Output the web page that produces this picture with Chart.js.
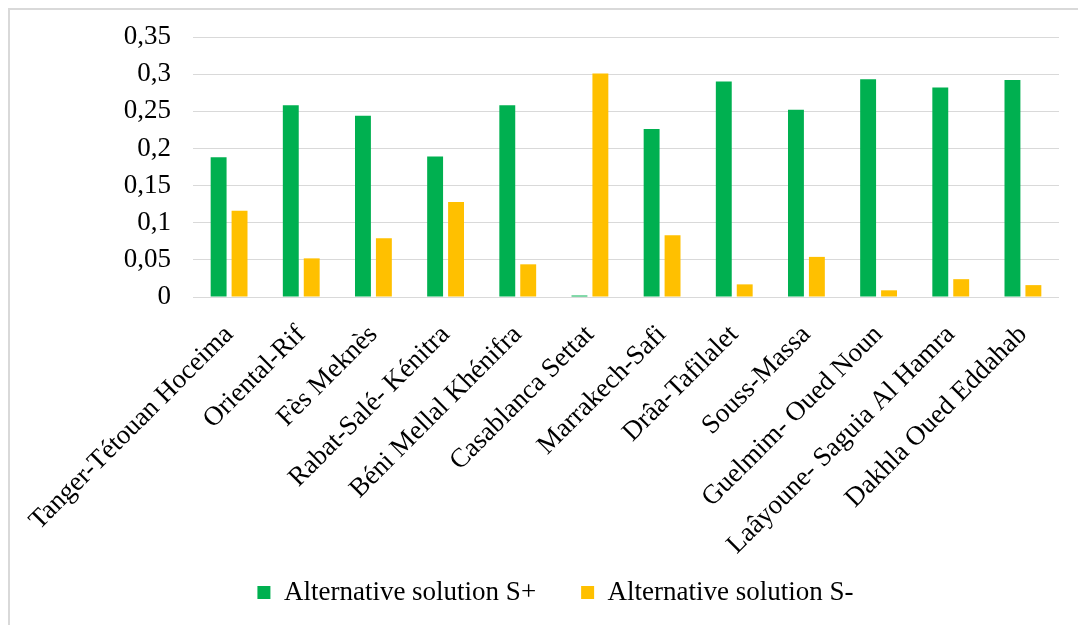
<!DOCTYPE html>
<html>
<head>
<meta charset="utf-8">
<script src="https://cdn.jsdelivr.net/npm/chart.js@4.4.1/dist/chart.umd.min.js"></script>
<style>
  html, body { margin: 0; padding: 0; background: #ffffff; overflow: hidden; }
  #wrap { position: relative; width: 1078px; height: 625px; }
  #frame { position: absolute; left: 8px; top: 8px; width: 1090px; height: 640px;
           border-left: 2px solid #d9d9d9; border-top: 2px solid #d9d9d9; box-sizing: border-box; }
  #c { position: absolute; left: 0; top: 0; }
</style>
</head>
<body>
<div id="wrap">
  <div id="frame"></div>
  <canvas id="c" width="1078" height="625"></canvas>
</div>
<script>
// Moroccan regions
const regions = [
  'Tanger-Tétouan Hoceima', 'Oriental-Rif', 'Fès Meknès', 'Rabat-Salé- Kénitra',
  'Béni Mellal Khénifra', 'Casablanca Settat', 'Marrakech-Safi', 'Drâa-Tafilalet',
  'Souss-Massa', 'Guelmim- Oued Noun', 'Laâyoune- Saguia Al Hamra', 'Dakhla Oued Eddahab'
];

// Distances to the ideal (S+) and anti-ideal (S-) solutions
const sPlus  = [0.188, 0.258, 0.244, 0.189, 0.258, 0.002, 0.226, 0.290, 0.252, 0.293, 0.282, 0.292];
const sMinus = [0.116, 0.052, 0.079, 0.128, 0.044, 0.301, 0.083, 0.017, 0.054, 0.009, 0.024, 0.016];

// Value axis tick labels, from 0 upward in steps of 0.05
const yTickLabels = ['0', '0,05', '0,1', '0,15', '0,2', '0,25', '0,3', '0,35'];

const seriesNames = ['Alternative solution S+', 'Alternative solution S-'];
const FONT = "'Liberation Serif', 'Times New Roman', serif";
const FONT_SIZE = 27;

// Rotated category labels run below the axis box; let them draw down to the canvas edge.
const unclipCategoryLabels = {
  id: 'unclipCategoryLabels',
  afterLayout(chart) { chart.scales.x.bottom = chart.height; }
};

new Chart(document.getElementById('c'), {
  type: 'bar',
  data: {
    labels: regions,
    datasets: [
      { label: seriesNames[0], data: sPlus,  backgroundColor: '#00b050',
        categoryPercentage: 0.58, barPercentage: 0.76 },
      { label: seriesNames[1], data: sMinus, backgroundColor: '#ffc000',
        categoryPercentage: 0.58, barPercentage: 0.76 }
    ]
  },
  plugins: [unclipCategoryLabels],
  options: {
    responsive: false,
    animation: false,
    devicePixelRatio: 1,
    layout: { padding: { left: 52, right: 19, top: 37, bottom: 9 } },
    plugins: {
      tooltip: { enabled: false },
      legend: {
        position: 'bottom',
        labels: {
          boxWidth: 13, boxHeight: 13, padding: 45,
          color: '#000000',
          font: { family: FONT, size: FONT_SIZE }
        }
      }
    },
    scales: {
      x: {
        grid: { display: false, drawTicks: false },
        border: { display: false },
        ticks: {
          autoSkip: false, minRotation: 45, maxRotation: 45,
          padding: 22, color: '#000000',
          font: { family: FONT, size: FONT_SIZE }
        },
        afterFit: (s) => { s.height = 237; s.paddingLeft = 0; s.paddingRight = 0; }
      },
      y: {
        min: 0, max: 0.35,
        grid: { color: '#d9d9d9', lineWidth: 1, drawTicks: false },
        border: { display: false },
        ticks: {
          stepSize: 0.05, padding: 22, color: '#000000',
          font: { family: FONT, size: FONT_SIZE },
          callback: (v, i) => yTickLabels[i]
        },
        afterFit: (s) => { s.width = 141; s.paddingTop = 0; s.paddingBottom = 0; }
      }
    }
  }
});
</script>
</body>
</html>
